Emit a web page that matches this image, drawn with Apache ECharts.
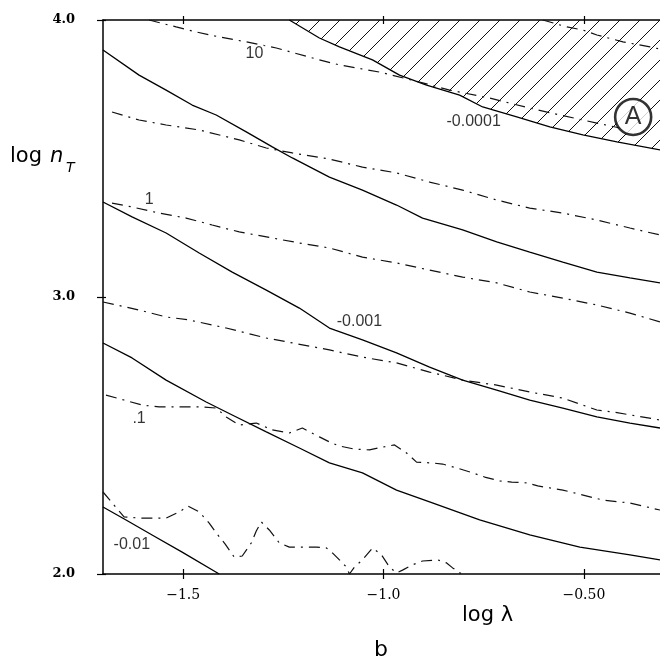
<!DOCTYPE html>
<html><head><meta charset="utf-8">
<script src="https://cdn.jsdelivr.net/npm/echarts@6/dist/echarts.min.js"></script>
<style>html,body{margin:0;padding:0;background:#fff}#c{width:660px;height:662px}</style>
</head><body><div id="c"></div>
<script>
// ---- axis ticks ----
const xTicks = [-1.5, -1.0, -0.5];
const xTickLabels = ['\u22121.5', '\u22121.0', '\u22120.50'];
const yTicks = [2, 3, 4];
const yTickLabels = ['2.0', '3.0', '4.0'];

// ---- contour curves [log lambda, log nT] ----
const curveBoundary = [[-1.235,4.0],[-1.16,3.935],[-1.11,3.903],[-1.0275,3.856],[-0.96,3.801],[-0.8925,3.765],[-0.81,3.729],[-0.7525,3.686],[-0.6675,3.650],[-0.585,3.614],[-0.5025,3.585],[-0.4175,3.560],[-0.31,3.531]];
const curveTen = [[-1.585,4.0],[-1.5175,3.975],[-1.4675,3.957],[-1.41,3.939],[-1.3425,3.921],[-1.2675,3.899],[-1.16,3.856],[-1.11,3.838],[-1.01,3.812],[-0.91,3.776],[-0.835,3.747],[-0.735,3.718],[-0.635,3.682],[-0.56,3.657],[-0.4675,3.628],[-0.41,3.610]];
const curveTopRight = [[-0.6025,4.0],[-0.5425,3.975],[-0.5025,3.964],[-0.4675,3.946],[-0.4025,3.921],[-0.335,3.903],[-0.31,3.895]];
const solidUpper = [[-1.70,3.892],[-1.61,3.801],[-1.5425,3.747],[-1.4775,3.693],[-1.4175,3.657],[-1.3425,3.596],[-1.2775,3.542],[-1.2275,3.502],[-1.135,3.433],[-1.0525,3.386],[-0.9675,3.332],[-0.9025,3.285],[-0.8025,3.242],[-0.7175,3.199],[-0.635,3.162],[-0.5525,3.126],[-0.4675,3.090],[-0.385,3.069],[-0.31,3.051]];
const dashUpper = [[-1.6775,3.668],[-1.61,3.639],[-1.5425,3.621],[-1.46,3.603],[-1.36,3.567],[-1.2925,3.538],[-1.2275,3.520],[-1.135,3.498],[-1.0525,3.469],[-0.9675,3.448],[-0.885,3.415],[-0.8025,3.386],[-0.7175,3.350],[-0.635,3.321],[-0.5525,3.303],[-0.4675,3.278],[-0.385,3.249],[-0.31,3.224]];
const dashOne = [[-1.6775,3.339],[-1.6275,3.325],[-1.56,3.303],[-1.4925,3.285],[-1.4275,3.260],[-1.36,3.235],[-1.2775,3.213],[-1.21,3.195],[-1.1525,3.181],[-1.135,3.177],[-1.0525,3.144],[-0.9675,3.123],[-0.885,3.097],[-0.8025,3.072],[-0.7175,3.051],[-0.635,3.018],[-0.5525,2.996],[-0.4675,2.971],[-0.385,2.942],[-0.31,2.910]];
const solidMilli = [[-1.70,3.343],[-1.6275,3.289],[-1.5425,3.231],[-1.46,3.159],[-1.3775,3.090],[-1.2925,3.025],[-1.21,2.960],[-1.135,2.888],[-1.0525,2.845],[-0.9675,2.798],[-0.885,2.747],[-0.8025,2.700],[-0.7175,2.664],[-0.635,2.628],[-0.5525,2.599],[-0.4675,2.567],[-0.385,2.545],[-0.31,2.527]];
const dashThree = [[-1.70,2.982],[-1.61,2.953],[-1.5425,2.928],[-1.485,2.917],[-1.3925,2.888],[-1.2925,2.852],[-1.135,2.809],[-1.0525,2.783],[-0.9675,2.762],[-0.885,2.729],[-0.8025,2.700],[-0.7175,2.682],[-0.635,2.657],[-0.5525,2.635],[-0.4675,2.592],[-0.4275,2.585],[-0.31,2.556]];
const solidLower = [[-1.70,2.834],[-1.6275,2.780],[-1.5425,2.700],[-1.4425,2.621],[-1.3775,2.574],[-1.2925,2.513],[-1.21,2.455],[-1.135,2.401],[-1.0525,2.365],[-0.9675,2.303],[-0.885,2.260],[-0.76,2.195],[-0.635,2.141],[-0.51,2.097],[-0.385,2.069],[-0.31,2.051]];
const dashPointOne = [[-1.6925,2.646],[-1.6475,2.628],[-1.6025,2.610],[-1.56,2.603],[-1.5025,2.603],[-1.4525,2.603],[-1.4175,2.599],[-1.3925,2.567],[-1.36,2.538],[-1.3175,2.545],[-1.2775,2.520],[-1.235,2.509],[-1.2025,2.527],[-1.16,2.495],[-1.135,2.477],[-1.11,2.462],[-1.0725,2.451],[-1.035,2.448],[-1.0025,2.458],[-0.9725,2.466],[-0.9425,2.437],[-0.9175,2.404],[-0.88,2.401],[-0.8525,2.397],[-0.8175,2.383],[-0.7775,2.365],[-0.7475,2.350],[-0.71,2.336],[-0.68,2.332],[-0.6425,2.329],[-0.615,2.318],[-0.5525,2.303],[-0.4525,2.267],[-0.385,2.256],[-0.31,2.231]];
const dashBottom = [[-1.70,2.296],[-1.6725,2.249],[-1.6475,2.206],[-1.61,2.202],[-1.5775,2.202],[-1.5425,2.202],[-1.51,2.224],[-1.4875,2.245],[-1.46,2.224],[-1.435,2.184],[-1.4175,2.148],[-1.395,2.108],[-1.3725,2.061],[-1.3525,2.065],[-1.33,2.112],[-1.3175,2.155],[-1.305,2.188],[-1.285,2.159],[-1.26,2.112],[-1.235,2.097],[-1.2025,2.097],[-1.1675,2.097],[-1.1425,2.094],[-1.1275,2.076],[-1.11,2.051],[-1.0925,2.025],[-1.085,2.0],[-1.0725,2.025],[-1.0525,2.051],[-1.0275,2.094],[-1.005,2.069],[-0.985,2.025],[-0.9675,2.004],[-0.9525,2.014],[-0.93,2.032],[-0.9025,2.047],[-0.865,2.051],[-0.8425,2.040],[-0.8275,2.022],[-0.805,2.0]];
const solidCenti = [[-1.70,2.242],[-1.6425,2.195],[-1.5775,2.141],[-1.5025,2.079],[-1.41,2.0]];

// ---- contour labels [x, y, text] ----
const contourLabels = [[-1.322,3.879,'10'],[-1.585,3.350,'1'],[-1.61,2.560,'.1'],[-1.628,2.105,'-0.01'],[-1.06,2.910,'-0.001'],[-0.775,3.632,'-0.0001']];
const regionLabel = [[-0.377,3.650,'A']];

// hatch pattern
const pat = document.createElement('canvas');
pat.width = 20; pat.height = 20;
const g = pat.getContext('2d');
g.strokeStyle = '#111'; g.lineWidth = 1;
g.beginPath();
g.moveTo(-2, 22); g.lineTo(22, -2);
g.moveTo(-2, 2); g.lineTo(2, -2);
g.moveTo(18, 22); g.lineTo(22, 18);
g.stroke();

const chart = echarts.init(document.getElementById('c'), null, {renderer: 'canvas'});

const solidStyle = {color: '#000', width: 1.3, type: 'solid'};
const dashStyle = {color: '#111', width: 1.2, type: [11, 6, 2, 6]};
function line(data, style, extra) {
  return Object.assign({type: 'line', data: data, symbol: 'none', showSymbol: false, lineStyle: style, z: 3, silent: true}, extra || {});
}
const baseX = {type: 'value', min: -1.7, max: -0.31, splitLine: {show: false}};
const baseY = {type: 'value', min: 2, max: 4, interval: 1, splitLine: {show: false}};
const tickLine = {color: '#000', width: 1.2};

chart.setOption({
  animation: false,
  backgroundColor: '#fff',
  grid: [
    {left: 103, right: 0, top: 20, bottom: 88, outerBoundsMode: 'none'},
    {left: 103, right: 0, top: 20, bottom: 88, outerBoundsMode: 'none'}
  ],
  xAxis: [
    Object.assign({}, baseX, {gridIndex: 0, position: 'bottom',
      axisLine: {show: true, lineStyle: {color: '#000', width: 1.5}},
      axisTick: {show: true, customValues: xTicks, length: 5, inside: false, lineStyle: tickLine},
      axisLabel: {show: true, customValues: xTicks, margin: 14, color: '#000', fontFamily: 'DejaVu Serif', fontSize: 14,
        formatter: function (v) { const i = xTicks.findIndex(t => Math.abs(t - v) < 1e-6); return i >= 0 ? xTickLabels[i] : ''; }}}),
    Object.assign({}, baseX, {gridIndex: 0, position: 'top',
      axisLine: {show: true, lineStyle: {color: '#000', width: 1.5}},
      axisTick: {show: true, customValues: xTicks, length: 4, inside: false, lineStyle: tickLine},
      axisLabel: {show: false}}),
    Object.assign({}, baseX, {gridIndex: 1, position: 'bottom',
      axisLine: {show: false},
      axisTick: {show: true, customValues: xTicks, length: 5, inside: true, lineStyle: tickLine},
      axisLabel: {show: false}}),
    Object.assign({}, baseX, {gridIndex: 1, position: 'top',
      axisLine: {show: false},
      axisTick: {show: true, customValues: xTicks, length: 4, inside: true, lineStyle: tickLine},
      axisLabel: {show: false}})
  ],
  yAxis: [
    Object.assign({}, baseY, {gridIndex: 0, position: 'left',
      axisLine: {show: true, lineStyle: {color: '#000', width: 1.5}},
      axisTick: {show: true, length: 6, inside: false, lineStyle: tickLine},
      axisLabel: {show: true, margin: 28, color: '#000', fontFamily: 'DejaVu Serif', fontWeight: 'bold', fontSize: 13,
        formatter: function (v) { const i = yTicks.findIndex(t => Math.abs(t - v) < 1e-6); return i >= 0 ? yTickLabels[i] : ''; }}}),
    Object.assign({}, baseY, {gridIndex: 1, position: 'left',
      axisLine: {show: false},
      axisTick: {show: true, length: 3, inside: true, lineStyle: tickLine},
      axisLabel: {show: false}})
  ],
  series: [
    line(curveBoundary, solidStyle, {areaStyle: {origin: 'end', color: {image: pat, repeat: 'repeat'}, opacity: 1}, z: 2}),
    line(curveTen, dashStyle),
    line(curveTopRight, dashStyle),
    line(solidUpper, solidStyle),
    line(dashUpper, dashStyle),
    line(dashOne, dashStyle),
    line(solidMilli, solidStyle),
    line(dashThree, dashStyle),
    line(solidLower, solidStyle),
    line(dashPointOne, dashStyle),
    line(dashBottom, dashStyle),
    line(solidCenti, solidStyle),
    {type: 'scatter', data: contourLabels, symbolSize: 0, z: 5, silent: true,
      label: {show: true, position: 'inside', formatter: p => p.data[2], color: '#000', fontFamily: 'Liberation Sans', fontSize: 16,
        backgroundColor: '#fff', padding: [0, 1]}},
    {type: 'scatter', data: regionLabel, symbol: 'circle', symbolSize: 36, z: 6, silent: true,
      itemStyle: {color: '#fff', borderColor: '#000', borderWidth: 2.6},
      label: {show: true, position: 'inside', formatter: p => p.data[2], color: '#000', fontFamily: 'Liberation Sans', fontSize: 25}}
  ],
  graphic: [
    {type: 'text', left: 10, top: 146, style: {text: 'log', font: '21px "DejaVu Sans"', fill: '#000'}},
    {type: 'text', left: 50, top: 146, style: {text: 'n', font: 'oblique 21px "DejaVu Sans"', fill: '#000'}},
    {type: 'text', left: 66, top: 161, style: {text: 'T', font: 'oblique 14px "DejaVu Sans"', fill: '#000'}},
    {type: 'text', left: 462, top: 605, style: {text: 'log \u03bb', font: '21px "DejaVu Sans"', fill: '#000'}},
    {type: 'text', left: 374, top: 639, style: {text: 'b', font: '22px "DejaVu Sans"', fill: '#000'}}
  ]
});
</script></body></html>
